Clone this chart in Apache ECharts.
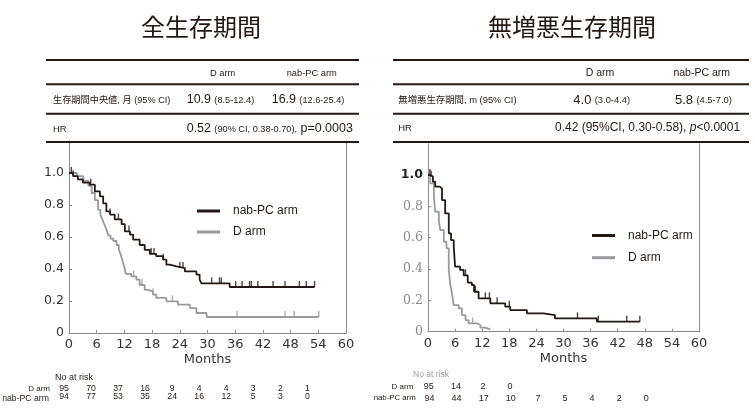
<!DOCTYPE html>
<html><head><meta charset="utf-8">
<script src="https://cdn.jsdelivr.net/npm/echarts@6/dist/echarts.min.js"></script>
<style>html,body{margin:0;padding:0;background:#fff}#c{width:755px;height:408px}</style>
</head><body><div id="c"></div>
<script>
// ---------- data ----------
const titleOS = '全生存期間';
const titlePFS = '無増悪生存期間';
const armNames = ['nab-PC arm', 'D arm'];

// Overall survival (left)
const osNabTime = [0, 0.9, 1.9, 3.0, 4.5, 5.6, 6.7, 7.4, 8.1, 8.9, 9.9, 11.4, 12.1, 13.2, 13.9, 15.3, 16.4, 17.5, 18.9, 20.4, 21.1, 21.8, 23.3, 25.1, 27.6, 28.3, 28.7, 34.8, 53.2];
const osNabSurv = [1.0, 0.98, 0.96, 0.94, 0.927, 0.885, 0.854, 0.81, 0.76, 0.74, 0.71, 0.68, 0.635, 0.615, 0.583, 0.55, 0.52, 0.494, 0.48, 0.458, 0.427, 0.417, 0.406, 0.385, 0.365, 0.333, 0.31, 0.2875, 0.2875];
const osNabCens = [0.5, 0.9, 4.7, 8.9, 10.7, 13.0, 17.8, 18.4, 20.4, 24.0, 24.7, 30.9, 32.6, 33.0, 36.1, 37.5, 39.1, 39.5, 40.9, 44.2, 46.8, 49.9, 51.4, 53.2];
const osDTime = [0, 1.7, 3.1, 4.2, 4.9, 5.6, 6.3, 6.8, 7.1, 7.5, 7.8, 8.2, 8.5, 9.0, 9.6, 10.3, 10.8, 11.2, 11.6, 12.0, 12.3, 13.5, 14.6, 15.3, 16.4, 17.1, 18.2, 18.9, 21.1, 23.6, 26.2, 27.6, 29.8, 54.1];
const osDSurv = [1.0, 0.98, 0.95, 0.92, 0.875, 0.83, 0.77, 0.74, 0.72, 0.69, 0.67, 0.64, 0.61, 0.59, 0.575, 0.55, 0.52, 0.49, 0.45, 0.41, 0.37, 0.354, 0.333, 0.30, 0.27, 0.26, 0.24, 0.219, 0.198, 0.177, 0.156, 0.125, 0.10, 0.10];
const osDCens = [14.0, 15.8, 18.2, 22.4, 36.4, 46.8, 48.8, 54.1];

// Progression-free survival (right)
const pfsNabTime = [0, 0.5, 1.1, 1.6, 2.6, 3.1, 3.8, 4.6, 5.1, 5.7, 6.0, 7.1, 7.9, 8.8, 9.7, 10.2, 11.2, 13.8, 17.1, 18.2, 21.9, 25.6, 28.1, 37.4, 46.9];
const pfsNabSurv = [1.0, 0.99, 0.957, 0.926, 0.915, 0.84, 0.755, 0.628, 0.585, 0.543, 0.415, 0.394, 0.36, 0.313, 0.298, 0.255, 0.213, 0.181, 0.16, 0.138, 0.117, 0.106, 0.085, 0.064, 0.064];
const pfsNabCens = [0.4, 0.7, 8.3, 10.5, 12.7, 13.6, 15.3, 18.0, 33.1, 37.7, 44.0, 46.9];
const pfsDTime = [0, 0.5, 1.3, 1.6, 2.4, 2.7, 3.5, 4.1, 4.6, 4.9, 5.3, 5.7, 6.8, 7.5, 8.3, 9.0, 10.8, 11.6, 12.7, 13.8];
const pfsDSurv = [1.0, 0.947, 0.862, 0.766, 0.713, 0.649, 0.574, 0.532, 0.394, 0.309, 0.245, 0.17, 0.149, 0.106, 0.074, 0.053, 0.043, 0.026, 0.015, 0.015];
const pfsDCens = [9.9];

// Summary tables
const osHeader = ['D arm', 'nab-PC arm'];
const osRowLabel = '生存期間中央値, 月 (95% CI)';
const osMedD = ['10.9', '(8.5-12.4)'];
const osMedNab = ['16.9', '(12.6-25.4)'];
const osHR = ['0.52', '(90% CI, 0.38-0.70),', 'p=0.0003'];
const pfsHeader = ['D arm', 'nab-PC arm'];
const pfsRowLabel = '無増悪生存期間, m (95% CI)';
const pfsMedD = ['4.0', '(3.0-4.4)'];
const pfsMedNab = ['5.8', '(4.5-7.0)'];
const pfsHR = ['0.42 (95%CI, 0.30-0.58), ', 'p', '<0.0001'];

// Numbers at risk
const riskMonths = [0, 6, 12, 18, 24, 30, 36, 42, 48, 54];
const osRiskD = [95, 70, 37, 16, 9, 4, 4, 3, 2, 1];
const osRiskNab = [94, 77, 53, 35, 24, 16, 12, 5, 3, 0];
const pfsRiskD = [95, 14, 2, 0];
const pfsRiskNab = [94, 44, 17, 10, 7, 5, 4, 2, 0];

// ---------- chart ----------
const INK = '#231815', GREY = '#9a9a9e', AX = '#8c8c8c';
const SANS = '"Liberation Sans", Arial, "Noto Sans CJK JP", sans-serif';
const CJK = '"Noto Sans CJK JP", sans-serif';
const AXF = '"DejaVu Sans", sans-serif';

function stepAt(times, surv, t) { let v = surv[0]; for (let i = 0; i < times.length; i++) { if (times[i] <= t) v = surv[i]; } return v; }
function pts(times, surv) { return times.map((t, i) => [t, surv[i]]); }
function cens(times, surv, c) { return c.map(t => [t, stepAt(times, surv, t)]); }

const chart = echarts.init(document.getElementById('c'));

function xAx(gi) {
  return {
    type: 'value', gridIndex: gi, min: 0, max: 60, interval: 6,
    axisLine: { lineStyle: { color: AX, width: 1 } },
    axisTick: { inside: true, length: 3, lineStyle: { color: AX } },
    axisLabel: { fontSize: 13, color: '#333', fontFamily: AXF, margin: 5 },
    splitLine: { show: false },
    name: 'Months', nameLocation: 'middle', nameGap: 20,
    nameTextStyle: { fontSize: 13, color: '#333', fontFamily: AXF }
  };
}
function yAx(gi, right) {
  const base = {
    type: 'value', gridIndex: gi, min: 0, max: 1.2, interval: 0.2,
    position: right ? 'right' : 'left',
    axisLine: { show: true, lineStyle: { color: AX, width: 1 } },
    splitLine: { show: false }
  };
  if (right) {
    base.axisTick = { show: false };
    base.axisLabel = { show: false };
  } else {
    base.axisTick = { show: true, inside: true, length: 3, lineStyle: { color: AX }, customValues: [0, 0.2, 0.4, 0.6, 0.8, 1.0] };
    base.axisLabel = {
      margin: 5, fontFamily: AXF,
      customValues: [0, 0.2, 0.4, 0.6, 0.8, 1.0],
      formatter: v => v > 1.01 ? '' : (v === 0 ? '0' : v.toFixed(1))
    };
    if (gi === 0) {
      base.axisLabel.fontSize = 12.5; base.axisLabel.color = '#333';
    } else {
      base.axisLabel.formatter = v => v > 1.01 ? '' : (Math.abs(v - 1) < 1e-6 ? '{b|1.0}' : '{g|' + (v === 0 ? '0' : v.toFixed(1)) + '}');
      base.axisLabel.rich = {
        b: { fontSize: 12.5, fontWeight: 'bold', color: '#222', fontFamily: AXF },
        g: { fontSize: 12.5, color: '#8a8a8a', fontFamily: '"DejaVu Serif", serif' }
      };
    }
  }
  return base;
}
function lineSeries(name, times, surv, xi, yi, color) {
  return {
    type: 'line', name, xAxisIndex: xi, yAxisIndex: yi, step: 'end', showSymbol: false, symbol: 'none',
    data: pts(times, surv), lineStyle: { color, width: 1.8 }, itemStyle: { color }, silent: true, z: color === INK ? 3 : 2
  };
}
function censSeries(name, times, surv, c, xi, yi, color) {
  return {
    type: 'scatter', name, xAxisIndex: xi, yAxisIndex: yi, data: cens(times, surv, c),
    symbol: 'rect', symbolSize: [1.4, 6], symbolOffset: [0, -3], itemStyle: { color }, silent: true, z: color === INK ? 4 : 3
  };
}
function legend(left, top, gap) {
  return {
    left, top, orient: 'vertical', itemWidth: 23, itemHeight: 3, itemGap: gap, icon: 'rect', padding: 0,
    data: armNames, selectedMode: false,
    textStyle: { fontSize: 12, fontFamily: SANS, color: INK, padding: [0, 0, 0, 8] }
  };
}

function txt(x, y, text, size, opts) {
  opts = opts || {};
  return {
    type: 'text', x, y, z: 100,
    style: Object.assign({ text, fontSize: size, fontFamily: SANS, fill: INK, textAlign: opts.align || 'left', textVerticalAlign: 'middle' }, opts.style || {})
  };
}
function richTxt(x, y, text, rich) {
  return { type: 'text', x, y, z: 100, style: { text, rich, textAlign: 'left', textVerticalAlign: 'middle', fontFamily: SANS, fill: INK } };
}
function hline(x1, x2, y) {
  return { type: 'line', z: 100, shape: { x1, y1: y, x2, y2: y }, style: { stroke: INK, lineWidth: 2 } };
}

const graphics = [];
// titles
graphics.push(txt(201, 27, titleOS, 24, { align: 'center', style: { fontFamily: CJK } }));
graphics.push(txt(572, 27, titlePFS, 24, { align: 'center', style: { fontFamily: CJK } }));
// left table
[60, 84.3, 113.7, 142].forEach(y => graphics.push(hline(46, 359, y)));
graphics.push(txt(222.7, 73, osHeader[0], 9.3, { align: 'center' }));
graphics.push(txt(311.7, 73, osHeader[1], 9.3, { align: 'center' }));
graphics.push(txt(53, 100, osRowLabel, 9.2));
const richL = { a: { fontSize: 12.5, fontFamily: SANS, fill: INK }, s: { fontSize: 9.2, fontFamily: SANS, fill: INK } };
graphics.push(richTxt(186.7, 100, '{a|' + osMedD[0] + '} {s|' + osMedD[1] + '}', richL));
graphics.push(richTxt(271.7, 100, '{a|' + osMedNab[0] + '} {s|' + osMedNab[1] + '}', richL));
graphics.push(txt(53, 129, 'HR', 9.3));
graphics.push(richTxt(186.7, 129, '{a|' + osHR[0] + '} {s|' + osHR[1] + '} {a|' + osHR[2] + '}', richL));
// right table
[60, 84.3, 113.7, 142].forEach(y => graphics.push(hline(393, 749, y)));
graphics.push(txt(600, 73, pfsHeader[0], 10.5, { align: 'center' }));
graphics.push(txt(701.7, 73, pfsHeader[1], 10.5, { align: 'center' }));
graphics.push(txt(398.3, 100, pfsRowLabel, 9.4));
const richR = { a: { fontSize: 13, fontFamily: SANS, fill: INK }, s: { fontSize: 9.4, fontFamily: SANS, fill: INK },
  h: { fontSize: 12, fontFamily: SANS, fill: INK }, i: { fontSize: 12, fontFamily: SANS, fontStyle: 'italic', fill: INK } };
graphics.push(richTxt(573.3, 100, '{a|' + pfsMedD[0] + '} {s|' + pfsMedD[1] + '}', richR));
graphics.push(richTxt(675, 100, '{a|' + pfsMedNab[0] + '} {s|' + pfsMedNab[1] + '}', richR));
graphics.push(txt(398.3, 128, 'HR', 9.4));
graphics.push(richTxt(555, 128, '{h|' + pfsHR[0] + '}{i|' + pfsHR[1] + '}{h|' + pfsHR[2] + '}', richR));

chart.setOption({
  animation: false,
  backgroundColor: '#fff',
  grid: [
    { left: 69, top: 141, width: 277, height: 192, containLabel: false },
    { left: 428, top: 143.7, width: 271, height: 188, containLabel: false }
  ],
  xAxis: [xAx(0), xAx(1)],
  yAxis: [yAx(0, false), yAx(0, true), yAx(1, false), yAx(1, true)],
  legend: [legend(197, 205, 9), legend(592, 229.5, 10.2)],
  series: [
    lineSeries('D arm', osDTime, osDSurv, 0, 0, GREY),
    lineSeries('nab-PC arm', osNabTime, osNabSurv, 0, 0, INK),
    censSeries('osDc', osDTime, osDSurv, osDCens, 0, 0, GREY),
    censSeries('osNc', osNabTime, osNabSurv, osNabCens, 0, 0, INK),
    lineSeries('D arm', pfsDTime, pfsDSurv, 1, 2, GREY),
    lineSeries('nab-PC arm', pfsNabTime, pfsNabSurv, 1, 2, INK),
    censSeries('pfsDc', pfsDTime, pfsDSurv, pfsDCens, 1, 2, GREY),
    censSeries('pfsNc', pfsNabTime, pfsNabSurv, pfsNabCens, 1, 2, INK)
  ],
  graphic: graphics
});

// numbers at risk, positioned from the x axes
const risk = [];
risk.push(txt(55, 378, 'No at risk', 9, { style: {} }));
risk.push(txt(50, 388.3, 'D arm', 8, { align: 'right' }));
risk.push(txt(49, 399, 'nab-PC arm', 8.7, { align: 'right' }));
osRiskD.forEach((n, i) => {
  const m = riskMonths[i];
  const x = chart.convertToPixel({ xAxisIndex: 0 }, m) - 5 - m * 0.11;
  risk.push(txt(x, 388.3, String(n), 8.7, { align: 'center' }));
});
osRiskNab.forEach((n, i) => {
  const m = riskMonths[i];
  const x = chart.convertToPixel({ xAxisIndex: 0 }, m) - 5 - m * 0.11;
  risk.push(txt(x, 396.7, String(n), 8.7, { align: 'center' }));
});
risk.push(txt(413, 375, 'No at risk', 8.5, { style: { fill: '#9a9a9a' } }));
risk.push(txt(413.3, 386.7, 'D arm', 8, { align: 'right' }));
risk.push(txt(415.7, 398.3, 'nab-PC arm', 7.8, { align: 'right' }));
pfsRiskD.forEach((n, i) => {
  const x = chart.convertToPixel({ xAxisIndex: 1 }, riskMonths[i]) + 0.8;
  risk.push(txt(x, 386.7, String(n), 9, { align: 'center' }));
});
pfsRiskNab.forEach((n, i) => {
  const x = chart.convertToPixel({ xAxisIndex: 1 }, riskMonths[i]) + 1.5;
  risk.push(txt(x, 398.3, String(n), 9, { align: 'center' }));
});
chart.setOption({ graphic: graphics.concat(risk) });
</script>
</body></html>
